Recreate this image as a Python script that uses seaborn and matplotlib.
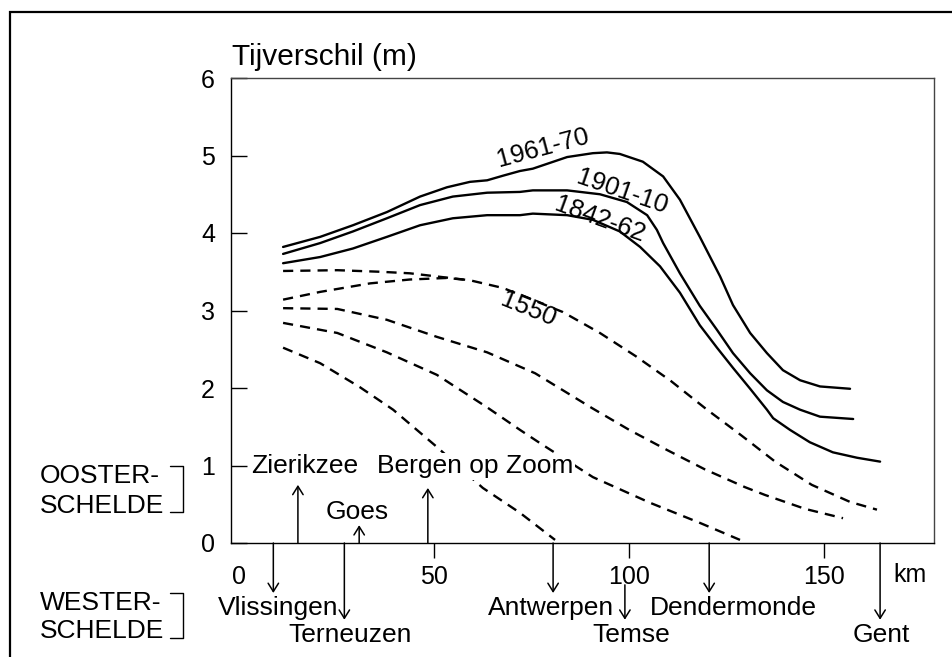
"""
Tijverschil langs de Schelde (Vlissingen - Gent), historische lengteprofielen.
"""

import matplotlib
matplotlib.use("Agg")
import matplotlib.pyplot as plt
from matplotlib.lines import Line2D
from matplotlib.patches import Rectangle
import seaborn as sns


# ---------------------------------------------------------------------
# Data (km from the mouth, tidal range in m)
# ---------------------------------------------------------------------
KM_1961 = [11.4, 20.9, 29.3, 38.0, 46.5, 53.4, 59.3, 63.7, 67.8, 72.1, 75.4, 84.2, 90.8,
           94.4, 97.7, 103.6, 108.8, 113.1, 118.2, 123.4, 126.7, 131.1, 135.4, 139.5,
           143.9, 149.0, 156.7]
TR_1961 = [3.82, 3.95, 4.10, 4.27, 4.47, 4.59, 4.66, 4.68, 4.74, 4.80, 4.83, 4.98, 5.03,
           5.04, 5.02, 4.92, 4.73, 4.43, 3.95, 3.44, 3.07, 2.71, 2.45, 2.23, 2.10, 2.02,
           1.99]

KM_1901 = [11.4, 20.9, 29.3, 38.0, 46.5, 54.9, 63.7, 72.1, 75.4, 84.2, 92.6, 99.5, 104.7,
           107.2, 108.8, 113.1, 118.2, 122.6, 126.7, 131.1, 135.4, 139.5, 143.9, 149.0, 157.5]
TR_1901 = [3.73, 3.87, 4.02, 4.19, 4.36, 4.47, 4.52, 4.53, 4.55, 4.55, 4.50, 4.40, 4.23,
           4.04, 3.87, 3.48, 3.06, 2.75, 2.45, 2.19, 1.97, 1.82, 1.72, 1.63, 1.60]

KM_1842 = [11.4, 20.9, 29.3, 38.0, 46.5, 54.9, 63.7, 72.1, 75.4, 84.2, 90.8, 97.7, 102.9,
           108.0, 113.1, 118.2, 122.6, 126.7, 131.1, 135.4, 137.0, 141.3, 146.4, 152.3,
           158.5, 164.4]
TR_1842 = [3.61, 3.69, 3.80, 3.95, 4.10, 4.19, 4.23, 4.23, 4.25, 4.23, 4.17, 4.02, 3.82,
           3.57, 3.23, 2.81, 2.52, 2.26, 1.99, 1.72, 1.61, 1.46, 1.30, 1.17, 1.10, 1.05]

KM_1550 = [11.4, 25.3, 36.2, 43.9, 52.4, 59.3, 67.8, 83.1, 92.6, 101.8, 110.8, 119.8,
           128.8, 137.5, 146.9, 156.7, 163.6]
TR_1550 = [3.51, 3.52, 3.50, 3.48, 3.43, 3.39, 3.29, 2.98, 2.71, 2.41, 2.09, 1.73, 1.39,
           1.05, 0.75, 0.53, 0.43]

# branch that joins the 1550 line
KM_OLD_A = [11.4, 20.9, 33.7, 43.9, 53.4, 59.3]
TR_OLD_A = [3.14, 3.24, 3.35, 3.40, 3.42, 3.39]

KM_OLD_B = [11.4, 25.3, 38.0, 50.8, 63.7, 76.0, 90.6, 100.1, 109.8, 119.5, 129.8, 134.9,
            145.2, 154.9]
TR_OLD_B = [3.03, 3.02, 2.88, 2.66, 2.46, 2.19, 1.74, 1.46, 1.20, 0.95, 0.72, 0.62, 0.44,
            0.32]

KM_OLD_C = [11.4, 25.3, 38.0, 50.8, 63.7, 72.1, 77.2, 90.8, 105.4, 118.2, 128.5]
TR_OLD_C = [2.84, 2.71, 2.46, 2.17, 1.75, 1.46, 1.29, 0.85, 0.52, 0.26, 0.04]

KM_OLD_D = [11.4, 20.9, 31.1, 39.6, 50.8, 62.6, 72.1, 81.1]
TR_OLD_D = [2.52, 2.32, 2.01, 1.72, 1.24, 0.71, 0.39, 0.04]

OOST_NAMES = ["Zierikzee", "Goes", "Bergen op Zoom"]
OOST_KM = [15.2, 30.9, 48.5]

WEST_NAMES = ["Vlissingen", "Terneuzen", "Antwerpen", "Temse", "Dendermonde", "Gent"]
WEST_KM = [8.9, 27.1, 80.6, 99.0, 120.6, 164.4]

X_TICKS = [0, 50, 100, 150]
Y_TICKS = [0, 1, 2, 3, 4, 5, 6]

# ---------------------------------------------------------------------
# Layout
# ---------------------------------------------------------------------
W, H = 952, 657

# arrow extents (y, data units) and label anchors (x km, baseline y)
OOST_ARROW_TOP = [0.75, 0.23, 0.71]
OOST_LABEL_POS = [(17.0, 0.90), (30.4, 0.31), (60.6, 0.90)]

WEST_ARROW_START = [0.0, 0.0, 0.0, -0.54, 0.0, 0.0]
WEST_ARROW_END = [-0.645, -0.99, -0.645, -0.99, -0.645, -0.99]
WEST_LABEL_POS = [(10.1, -0.93), (28.6, -1.28), (80.1, -0.93),
                  (100.6, -1.28), (126.7, -0.93), (164.6, -1.28)]

CURVE_LABELS = [
    ("1961-70", 78.0, 5.10, 15),
    ("1901-10", 98.3, 4.53, -19),
    ("1842-62", 92.6, 4.17, -20),
    ("1550", 74.2, 3.01, -22),
]

sns.set_theme(style="white")
plt.rcParams["font.family"] = ["Liberation Sans", "DejaVu Sans"]
plt.rcParams.update({
    "axes.linewidth": 1.0,
    "text.color": "black",
    "xtick.color": "black",
    "ytick.color": "black",
    "axes.labelcolor": "black",
})


def fx(px):
    return px / W


def fy(py):
    return 1 - py / H


def main() -> None:
    fig = plt.figure(figsize=(W / 100, H / 100), dpi=100)
    ax = fig.add_axes([fx(231), fy(543), (934 - 231) / W, (543 - 78) / H])

    solid = [(KM_1961, TR_1961), (KM_1901, TR_1901), (KM_1842, TR_1842)]
    dashed = [(KM_1550, TR_1550), (KM_OLD_A, TR_OLD_A), (KM_OLD_B, TR_OLD_B),
              (KM_OLD_C, TR_OLD_C), (KM_OLD_D, TR_OLD_D)]

    for km, tr in solid:
        sns.lineplot(x=km, y=tr, ax=ax, color="black", linewidth=1.7,
                     sort=False, estimator=None)
    for km, tr in dashed:
        sns.lineplot(x=km, y=tr, ax=ax, color="black", linewidth=1.7,
                     sort=False, estimator=None, dashes=False,
                     linestyle=(0, (4.3, 3.0)))

    ax.set_xlim((231 - 238.6) / 3.902, (934 - 238.6) / 3.902)
    ax.set_ylim(0, 6)

    for side in ["left", "bottom"]:
        ax.spines[side].set_color("black")
    for side in ["top", "right"]:
        ax.spines[side].set_color("#444444")

    ax.set_xticks(X_TICKS)
    ax.set_yticks(Y_TICKS)
    ax.tick_params(axis="x", direction="out", length=10.8, width=1.0, pad=5,
                   labelsize=18, colors="black", bottom=True)
    ax.tick_params(axis="y", direction="in", length=11.5, width=1.0, pad=11.5,
                   labelsize=18, colors="black", left=True)
    ax.xaxis.get_major_ticks()[0].tick1line.set_visible(False)
    ax.set_xlabel("")
    ax.set_ylabel("")

    # curve labels
    for text, x, y, rot in CURVE_LABELS:
        ax.text(x, y, text, fontsize=18.5, rotation=rot, rotation_mode="anchor",
                ha="center", va="center", color="black")

    arrow_kw = dict(arrowstyle="->,head_length=0.4,head_width=0.25", lw=1.1,
                    color="black", shrinkA=0, shrinkB=0, mutation_scale=15)

    # Oosterschelde stations (above the axis)
    for name, km, top, (lx, ly) in zip(OOST_NAMES, OOST_KM, OOST_ARROW_TOP, OOST_LABEL_POS):
        ax.annotate("", xy=(km, top), xytext=(km, 0), arrowprops=arrow_kw,
                    annotation_clip=False)
        ax.text(lx, ly, name, fontsize=19, ha="center", va="baseline", zorder=5,
                color="black", bbox=dict(facecolor="white", edgecolor="none", pad=1))

    # Westerschelde stations (below the axis)
    for name, km, y0, y1, (lx, ly) in zip(WEST_NAMES, WEST_KM, WEST_ARROW_START,
                                          WEST_ARROW_END, WEST_LABEL_POS):
        ax.annotate("", xy=(km, y1), xytext=(km, y0), arrowprops=arrow_kw,
                    annotation_clip=False)
        ax.text(lx, ly, name, fontsize=19, ha="center", va="baseline", clip_on=False,
                color="black")

    # axis titles
    fig.text(fx(232), fy(65), "Tijverschil (m)", fontsize=21.5, ha="left", va="baseline")
    fig.text(fx(910), fy(582), "km", fontsize=18, ha="center", va="baseline")

    # estuary branch labels with brackets
    for lines, baselines, (top, bot) in [
        (("OOSTER-", "SCHELDE"), (483, 513), (466, 512)),
        (("WESTER-", "SCHELDE"), (610, 638), (593, 638)),
    ]:
        for txt, base in zip(lines, baselines):
            fig.text(fx(40), fy(base), txt, fontsize=19, ha="left", va="baseline")
        fig.add_artist(Line2D([fx(170), fx(183), fx(183), fx(170)],
                              [fy(top), fy(top), fy(bot), fy(bot)],
                              transform=fig.transFigure, color="black", lw=1.0))

    # outer frame (cut off at right and bottom)
    fig.add_artist(Rectangle((fx(10), -0.1), 1.2, fy(12) + 0.1,
                             transform=fig.transFigure, fill=False,
                             edgecolor="black", linewidth=1.6))

    fig.savefig("out.png", dpi=100)


if __name__ == "__main__":
    main()
